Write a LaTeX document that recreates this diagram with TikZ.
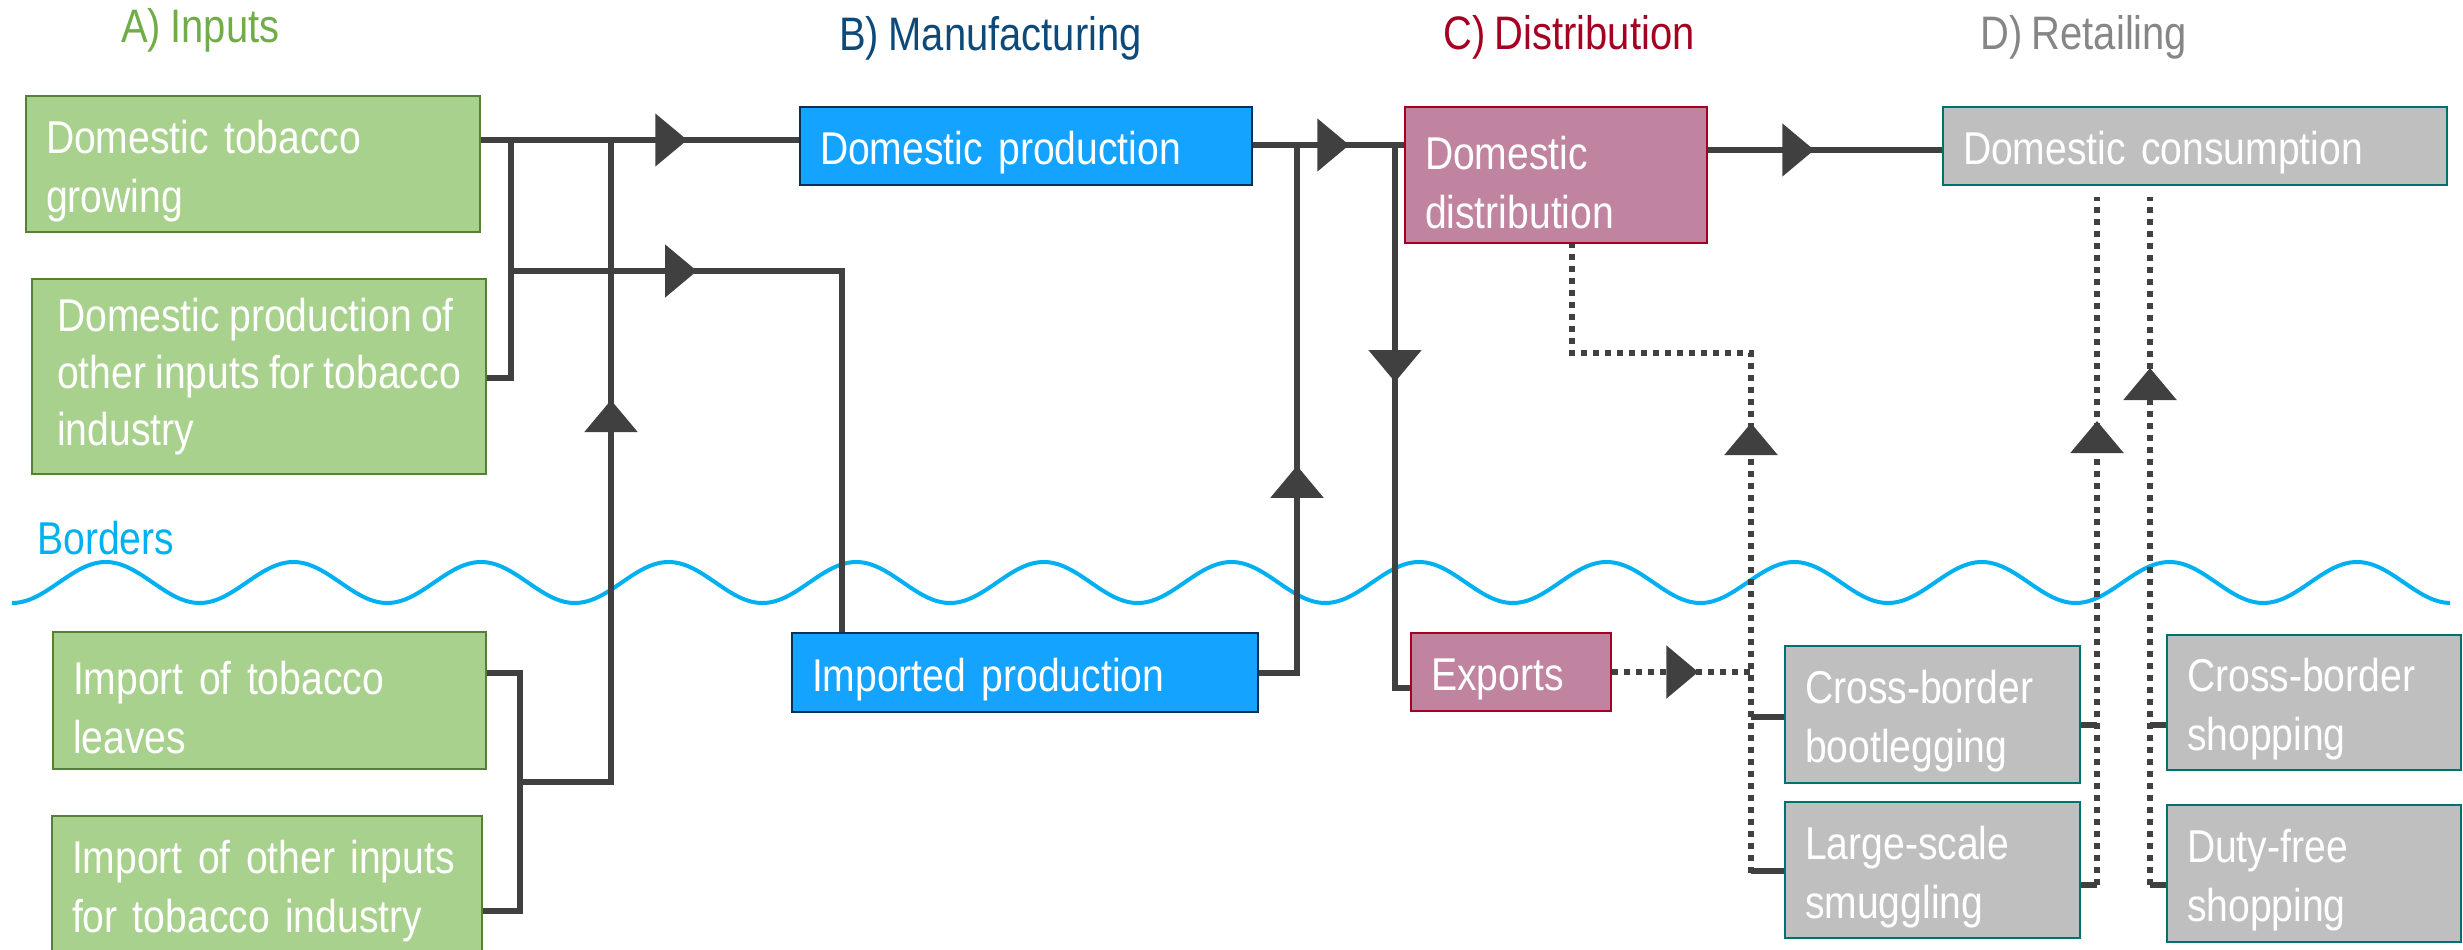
\documentclass[tikz,border=0pt]{standalone}
\usepackage{fontspec}
\setmainfont{Liberation Sans}[FakeStretch=0.85, WordSpace=0.85]
\usetikzlibrary{arrows.meta,decorations.markings}
\hyphenpenalty=10000
\exhyphenpenalty=10000

\definecolor{greenfill}{HTML}{A9D18E}
\definecolor{greenline}{HTML}{548235}
\definecolor{bluefill}{HTML}{14A3FF}
\definecolor{blueline}{HTML}{0C3050}
\definecolor{pinkfill}{HTML}{C184A0}
\definecolor{pinkline}{HTML}{A50021}
\definecolor{greyfill}{HTML}{BFBFBF}
\definecolor{greyline}{HTML}{007070}
\definecolor{flow}{HTML}{404040}
\definecolor{borderblue}{HTML}{00B0F0}
\definecolor{titleA}{HTML}{70AD47}
\definecolor{titleB}{HTML}{0E4A79}
\definecolor{titleC}{HTML}{A50021}
\definecolor{titleD}{HTML}{868686}

\tikzset{
  box/.style={draw, line width=2.5pt, inner xsep=20pt, inner ysep=0pt,
    align=left, text=white, anchor=center,
    font=\fontsize{46}{59}\selectfont,
    execute at begin node={\rule{0pt}{47.5pt}}},
  inputbox/.style={box, fill=greenfill, draw=greenline},
  makebox/.style={box, fill=bluefill, draw=blueline},
  distbox/.style={box, fill=pinkfill, draw=pinkline},
  retailbox/.style={box, fill=greyfill, draw=greyline},
  heading/.style={anchor=base west, inner sep=0pt, font=\fontsize{47}{56}\selectfont},
  flowline/.style={draw=flow, line width=5.5pt},
  dotline/.style={draw=flow, line width=6pt, dash pattern=on 6pt off 6pt},
  stub/.style={draw=flow, line width=6pt},
  midarrow/.style={postaction={decorate}, decoration={markings,
    mark=at position #1pt with {\arrow[flow]{Triangle[length=32pt,width=52pt]}}}},
}

\begin{document}
\begin{tikzpicture}[x=1pt,y=-1pt]
\useasboundingbox (0,0) rectangle (2463,950);

% stage headings
\node[heading, text=titleA] (hA) at (121,43) {A) Inputs};
\node[heading, text=titleB] (hB) at (839,51) {B) Manufacturing};
\node[heading, text=titleC] (hC) at (1443,50) {C) Distribution};
\node[heading, text=titleD] (hD) at (1980,50) {D) Retailing};

% national border: 13 periods of a cosine wave
\draw[borderblue, line width=4pt]
  plot[domain=0:13, samples=520, smooth] ({12+187.6*\x}, {582.5 + 20.5*cos(360*\x)});
\node[heading, text=borderblue, font=\fontsize{46}{56}\selectfont] (bord) at (37,554) {Borders};

% A) inputs
\node[inputbox, minimum width=454pt, minimum height=136pt, text width=414pt] (g1) at (253,164) {Domestic tobacco\\growing};
\node[inputbox, minimum width=454pt, minimum height=195pt, inner xsep=0pt,
      font=\fontsize{46}{57}\selectfont] (g2) at (259,376.5) {Domestic production of\\other inputs for tobacco\\industry};
\node[inputbox, minimum width=433pt, minimum height=137pt, text width=393pt] (g3) at (269.5,700.5) {Import of tobacco\\leaves};
\node[inputbox, minimum width=430pt, minimum height=137pt, text width=390pt] (g4) at (267,884.5) {Import of other inputs\\for tobacco industry};

% B) manufacturing
\node[makebox, minimum width=452pt, minimum height=78pt, text width=412pt] (b1) at (1026,146) {Domestic production};
\node[makebox, minimum width=466pt, minimum height=79pt, text width=426pt] (b2) at (1025,672.5) {Imported production};

% C) distribution
\node[distbox, minimum width=302pt, minimum height=136pt, text width=262pt] (p1) at (1556,175) {Domestic\\distribution};
\node[distbox, minimum width=200pt, minimum height=78pt, text width=160pt] (p2) at (1511,672) {Exports};

% D) retailing
\node[retailbox, minimum width=504pt, minimum height=78pt, text width=464pt] (d1) at (2195,146) {Domestic consumption};
\node[retailbox, minimum width=295pt, minimum height=137pt, text width=255pt] (d2) at (1932.5,714.5) {Cross-border\\bootlegging};
\node[retailbox, minimum width=295pt, minimum height=136pt, text width=255pt] (d3) at (1932.5,870) {Large-scale\\smuggling};
\node[retailbox, minimum width=294pt, minimum height=135pt, text width=254pt] (d4) at (2314,702.5) {Cross-border\\shopping};
\node[retailbox, minimum width=294pt, minimum height=137pt, text width=254pt] (d5) at (2314,873.5) {Duty-free\\shopping};

% solid flows
\draw[flowline, midarrow=206] (g1.east |- 0,140) -- (b1.west |- 0,140);
\draw[flowline] (g2.east |- 0,378) -| (511,140);
\draw[flowline, midarrow=186] (511,271) -| (842,0 |- b2.north);
\draw[flowline] (g3.east |- 0,673) -| (520,911) -- (g4.east |- 0,911);
\draw[flowline, midarrow=473] (520,782) -| (611,140);
\draw[flowline, midarrow=96] (b1.east |- 0,145) -- (p1.west |- 0,145);
\draw[flowline, midarrow=245] (b2.east |- 0,673) -| (1297,145);
\draw[flowline, midarrow=237] (1395,145) |- (p2.west |- 0,688);
\draw[flowline, midarrow=106] (p1.east |- 0,150) -- (d1.west |- 0,150);

% informal flows
\draw[stub] (d2.west |- 0,717) -- (1751,717);
\draw[stub] (d3.west |- 0,871) -- (1751,871);
\draw[dotline, midarrow=450] (1751,873) -- (1751,353) -| (1572,0 |- p1.south);
\draw[dotline, midarrow=86] (p2.east |- 0,672) -- (1751,672);

\draw[stub] (d2.east |- 0,725) -- (2097,725);
\draw[stub] (d3.east |- 0,885) -- (2097,885);
\draw[dotline, midarrow=464] (2097,885) -- (2097,197);

\draw[stub] (d4.west |- 0,725) -- (2150,725);
\draw[stub] (d5.west |- 0,885) -- (2150,885);
\draw[dotline, midarrow=517] (2150,885) -- (2150,197);
\end{tikzpicture}
\end{document}
